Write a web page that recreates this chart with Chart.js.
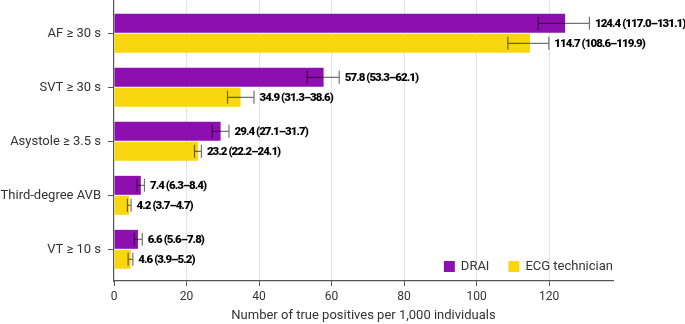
<!DOCTYPE html>
<html>
<head>
<meta charset="utf-8">
<script src="https://cdn.jsdelivr.net/npm/chart.js@4"></script>
<style>
  html, body { margin: 0; padding: 0; background: #fff; }
  #wrap { width: 685px; height: 324px; position: relative; }
</style>
</head>
<body>
<div id="wrap"><canvas id="c"></canvas></div>
<script>
const categories = ['AF ≥ 30 s', 'SVT ≥ 30 s', 'Asystole ≥ 3.5 s', 'Third-degree AVB', 'VT ≥ 10 s'];
const seriesNames = ['DRAI', 'ECG technician'];
const draiValues = [124.4, 57.8, 29.4, 7.4, 6.6];
const draiLow    = [117.0, 53.3, 27.1, 6.3, 5.6];
const draiHigh   = [131.1, 62.1, 31.7, 8.4, 7.8];
const ecgValues  = [114.7, 34.9, 23.2, 4.2, 4.6];
const ecgLow     = [108.6, 31.3, 22.2, 3.7, 3.9];
const ecgHigh    = [119.9, 38.6, 24.1, 4.7, 5.2];
const xTicks = [0, 20, 40, 60, 80, 100, 120];
const xTitle = 'Number of true positives per 1,000 individuals';

const PURPLE = '#8E0FAF';
const YELLOW = '#F9D710';
const FONT = 'Roboto, "Liberation Sans", sans-serif';

const errLow = [draiLow, ecgLow];
const errHigh = [draiHigh, ecgHigh];

const errorBarPlugin = {
  id: 'errorBars',
  afterDatasetsDraw(chart) {
    const ctx = chart.ctx;
    const xs = chart.scales.x;
    ctx.save();
    chart.data.datasets.forEach((ds, di) => {
      const meta = chart.getDatasetMeta(di);
      meta.data.forEach((bar, i) => {
        const y = bar.y;
        const x1 = xs.getPixelForValue(errLow[di][i]);
        const x2 = xs.getPixelForValue(errHigh[di][i]);
        const h = 6.5;
        ctx.strokeStyle = 'rgba(0,0,0,0.55)';
        ctx.lineWidth = 1.2;
        ctx.beginPath();
        ctx.moveTo(x1, y); ctx.lineTo(x2, y);
        ctx.moveTo(x1, y - h); ctx.lineTo(x1, y + h);
        ctx.moveTo(x2, y - h); ctx.lineTo(x2, y + h);
        ctx.stroke();
        const txt = ds.data[i].toFixed(1) + ' (' + errLow[di][i].toFixed(1) + '–' + errHigh[di][i].toFixed(1) + ')';
        ctx.fillStyle = '#000';
        ctx.font = '900 11.5px ' + FONT;
        if ('letterSpacing' in ctx) ctx.letterSpacing = '-0.95px';
        ctx.textAlign = 'left';
        ctx.textBaseline = 'middle';
        ctx.fillText(txt, x2 + 5.5, y + 0.5);
        if ('letterSpacing' in ctx) ctx.letterSpacing = '0px';
      });
    });
    ctx.restore();
  }
};

const legendPlugin = {
  id: 'cornerLegend',
  afterDraw(chart) {
    const ctx = chart.ctx;
    const area = chart.chartArea;
    ctx.save();
    ctx.font = '13px ' + FONT;
    ctx.textBaseline = 'middle';
    ctx.textAlign = 'left';
    const y = 266.5;
    const box = 11, gapBoxText = 6, gapItems = 19;
    const items = chart.data.datasets.map(d => ({ label: d.label, color: d.backgroundColor }));
    let total = 0;
    items.forEach((it, k) => {
      it.w = ctx.measureText(it.label).width;
      total += box + gapBoxText + it.w + (k < items.length - 1 ? gapItems : 0);
    });
    let x = area.right - total;
    items.forEach(it => {
      ctx.fillStyle = it.color;
      ctx.fillRect(x, y - box / 2, box, box);
      x += box + gapBoxText;
      ctx.fillStyle = '#333';
      ctx.fillText(it.label, x, y);
      x += it.w + gapItems;
    });
    ctx.restore();
  }
};

new Chart(document.getElementById('c'), {
  type: 'bar',
  data: {
    labels: categories,
    datasets: [
      { label: seriesNames[0], data: draiValues, backgroundColor: PURPLE, borderWidth: 0,
        categoryPercentage: 0.74, barPercentage: 0.95 },
      { label: seriesNames[1], data: ecgValues, backgroundColor: YELLOW, borderWidth: 0,
        categoryPercentage: 0.74, barPercentage: 0.95 }
    ]
  },
  options: {
    indexAxis: 'y',
    responsive: true,
    maintainAspectRatio: false,
    animation: false,
    layout: { padding: { top: 0, right: 72, left: 0, bottom: 0 } },
    plugins: { legend: { display: false }, tooltip: { enabled: false } },
    scales: {
      x: {
        type: 'linear',
        min: 0,
        max: 137.6,
        afterBuildTicks(scale) { scale.ticks = xTicks.map(v => ({ value: v })); },
        afterFit(scale) { scale.height = 43; },
        grid: {
          color: ctx => (ctx.tick && ctx.tick.value === 0) ? 'rgba(0,0,0,0)' : '#e4e4e4',
          lineWidth: 1,
          drawTicks: true,
          tickLength: 5,
          tickColor: '#555'
        },
        border: { display: true, color: '#555', width: 1.2 },
        ticks: { color: '#333', font: { family: FONT, size: 12 }, padding: 4 },
        title: { display: true, text: xTitle, color: '#333', font: { family: FONT, size: 13 }, padding: { top: 0, bottom: 0 } }
      },
      y: {
        type: 'category',
        offset: true,
        afterBuildTicks(scale) { scale._startValue = -0.617; scale._valueRange = 5.204; },
        afterFit(scale) { scale.width = 114; scale.paddingTop = 0; scale.paddingBottom = 0; },
        grid: { display: true, drawOnChartArea: false, offset: false, drawTicks: true, tickLength: 6, tickColor: '#555' },
        border: { display: true, color: '#555', width: 1.2 },
        ticks: { color: '#333', font: { family: FONT, size: 13 }, padding: 7 }
      }
    }
  },
  plugins: [errorBarPlugin, legendPlugin]
});
</script>
</body>
</html>
